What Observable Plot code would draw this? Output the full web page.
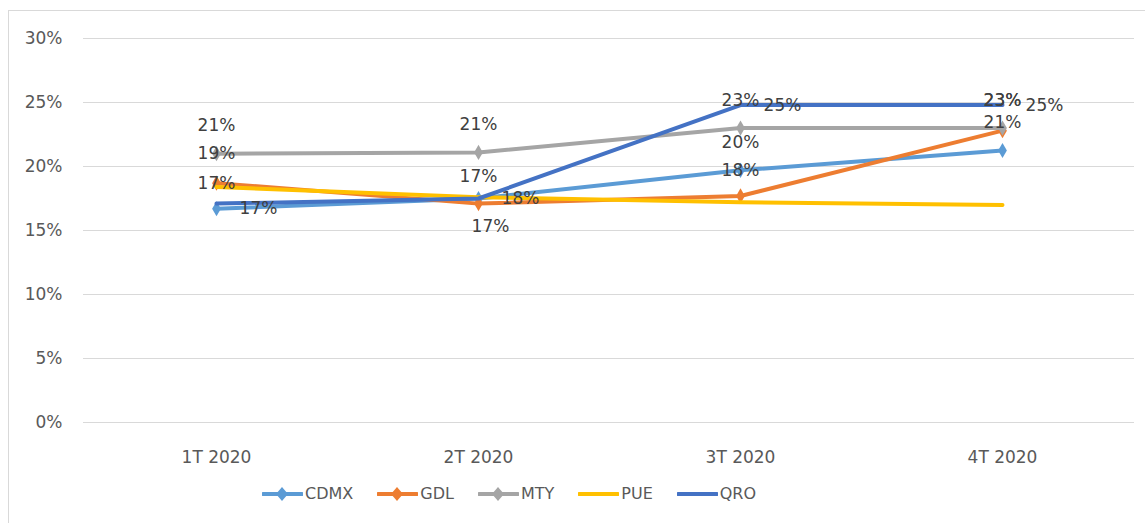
<!DOCTYPE html>
<html>
<head>
<meta charset="utf-8">
<script src="https://cdn.jsdelivr.net/npm/d3@7"></script>
<script src="https://cdn.jsdelivr.net/npm/@observablehq/plot@0.6"></script>
<style>
  html, body { margin: 0; padding: 0; background: #fff; }
  body { width: 1145px; height: 523px; position: relative; overflow: hidden; font-family: "DejaVu Sans", sans-serif; }
  #frame { position: absolute; left: 8px; top: 10px; width: 1150px; height: 520px; border-left: 1px solid #d9d9d9; border-top: 1px solid #d9d9d9; box-sizing: border-box; }
  #chart { position: absolute; left: 0; top: 0; }
  #legend { position: absolute; left: 262px; top: 484px; display: flex; align-items: center; gap: 24px; color: #595959; font-size: 16px; }
  .item { display: flex; align-items: center; }
  .item svg { display: block; margin-right: 2px; }
</style>
</head>
<body>
<div id="frame"></div>
<div id="chart"></div>
<div id="legend"></div>
<script>
// ---- data ----
const quarters = ["1T 2020", "2T 2020", "3T 2020", "4T 2020"];
const seriesNames = ["CDMX", "GDL", "MTY", "PUE", "QRO"];
const cdmx = [0.167, 0.175, 0.197, 0.2125];
const gdl  = [0.187, 0.171, 0.177, 0.228];
const mty  = [0.210, 0.211, 0.230, 0.230];
const pue  = [0.184, 0.176, 0.172, 0.170];
const qro  = [0.171, 0.175, 0.248, 0.248];
const yTicks = [0, 0.05, 0.10, 0.15, 0.20, 0.25, 0.30];

// data labels as shown (series they sit on, quarter, text, placement)
const labelSeries   = ["MTY","MTY","GDL","CDMX", "MTY","MTY","CDMX","GDL", "MTY","QRO","CDMX","CDMX", "MTY","MTY","QRO","CDMX"];
const labelQuarter  = ["1T 2020","1T 2020","1T 2020","1T 2020", "2T 2020","2T 2020","2T 2020","2T 2020", "3T 2020","3T 2020","3T 2020","3T 2020", "4T 2020","4T 2020","4T 2020","4T 2020"];
const labelText     = ["21%","19%","17%","17%", "21%","17%","18%","17%", "23%","25%","20%","18%", "23%","23%","25%","21%"];
const labelPlace    = ["above","center","center","right", "above","below","right","belowRight", "above","right","above","center", "above","above","right","above"];

// ---- styles ----
const colors = {CDMX: "#5B9BD5", GDL: "#ED7D31", MTY: "#A5A5A5", PUE: "#FFC000", QRO: "#4472C4"};
const hasMarker = {CDMX: true, GDL: true, MTY: true, PUE: false, QRO: false};
const placeOffset = {above: [0, -28], below: [0, 24], belowRight: [12, 23], right: [42, 0], center: [0, 0]};

const valuesBySeries = {CDMX: cdmx, GDL: gdl, MTY: mty, PUE: pue, QRO: qro};
const rows = seriesNames.flatMap(s => quarters.map((q, i) => ({series: s, quarter: q, value: valuesBySeries[s][i]})));
const labels = labelText.map((t, i) => {
  const s = labelSeries[i], q = labelQuarter[i];
  return {text: t, place: labelPlace[i], quarter: q, value: valuesBySeries[s][quarters.indexOf(q)]};
});

const marks = [
  Plot.gridY(yTicks, {stroke: "#d9d9d9", strokeOpacity: 1, strokeWidth: 1}),
  Plot.axisY({ticks: yTicks, tickFormat: d => Math.round(d * 100) + "%", tickSize: 0, tickPadding: 21}),
  Plot.axisX({tickSize: 0, tickPadding: 28})
];
for (const s of seriesNames) {
  const d = rows.filter(r => r.series === s);
  marks.push(Plot.line(d, {x: "quarter", y: "value", stroke: colors[s], strokeWidth: 4, strokeLinejoin: "round", strokeLinecap: "round"}));
  if (hasMarker[s]) {
    marks.push(Plot.dot(d, {x: "quarter", y: "value", symbol: "diamond", r: 4.6, fill: colors[s], stroke: "none"}));
  }
}
for (const p of Object.keys(placeOffset)) {
  const [dx, dy] = placeOffset[p];
  marks.push(Plot.text(labels.filter(l => l.place === p), {x: "quarter", y: "value", text: "text", dx, dy, fill: "#404040", fontSize: 17}));
}

const chart = Plot.plot({
  width: 1145,
  height: 475,
  marginLeft: 83,
  marginRight: 11,
  marginTop: 38,
  marginBottom: 53,
  style: {fontFamily: "DejaVu Sans, sans-serif", fontSize: "17px", color: "#595959", background: "transparent", overflow: "visible"},
  x: {type: "point", domain: quarters, padding: 0.5, label: null},
  y: {domain: [0, 0.30], label: null},
  marks
});
document.getElementById("chart").appendChild(chart);

// ---- legend ----
const legend = document.getElementById("legend");
for (const s of seriesNames) {
  const item = document.createElement("div");
  item.className = "item";
  const marker = hasMarker[s]
    ? `<polygon points="20,1 26,8 20,15 14,8" fill="${colors[s]}"/>`
    : "";
  item.innerHTML = `<svg width="41" height="16"><line x1="1" y1="8" x2="40" y2="8" stroke="${colors[s]}" stroke-width="4" stroke-linecap="round"/>${marker}</svg><span>${s}</span>`;
  legend.appendChild(item);
}
</script>
</body>
</html>
